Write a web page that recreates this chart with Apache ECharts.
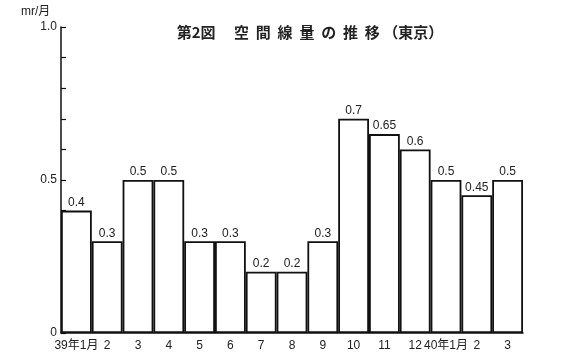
<!DOCTYPE html>
<html><head><meta charset="utf-8">
<script src="https://cdn.jsdelivr.net/npm/echarts@6/dist/echarts.min.js"></script>
<style>html,body{margin:0;padding:0;background:#fff}#c{width:568px;height:362px}</style>
</head><body><div id="c"></div>
<script>
const categories = ["39年1月","2","3","4","5","6","7","8","9","10","11","12","40年1月","2","3"];
const values = [0.4,0.3,0.5,0.5,0.3,0.3,0.2,0.2,0.3,0.7,0.65,0.6,0.5,0.45,0.5];
const valueLabels = ["0.4","0.3","0.5","0.5","0.3","0.3","0.2","0.2","0.3","0.7","0.65","0.6","0.5","0.45","0.5"];
const yLabels = {"0":"0","0.5":"0.5","1":"1.0"};
const FONT = "'Liberation Sans', 'Noto Sans CJK JP', sans-serif";
const chart = echarts.init(document.getElementById('c'));
chart.setOption({
  animation:false,
  backgroundColor:'#fff',
  title:{text:'第2図　 空  間  線  量  の  推  移 （東京）',left:305,top:20,textAlign:'center',
    textStyle:{fontFamily:"'Noto Sans CJK JP', sans-serif",fontSize:15,fontWeight:'bold',color:'#222'}},
  graphic:[{type:'text',left:21,top:6,style:{text:'mr/月',font:"12px 'Liberation Sans','Noto Sans CJK JP'",fill:'#222'}}],
  grid:{left:61,right:45,top:27,bottom:29,containLabel:false},
  xAxis:{type:'category',data:categories,
    axisLine:{lineStyle:{color:'#111',width:1.5}},axisTick:{show:false},
    axisLabel:{interval:0,color:'#222',fontSize:12,margin:7,fontFamily:FONT}},
  yAxis:{type:'value',min:0,max:1,interval:0.1,splitLine:{show:false},
    axisLine:{show:true,lineStyle:{color:'#111',width:1.5}},
    axisTick:{show:true,inside:true,length:5,lineStyle:{color:'#111',width:1.2}},
    axisLabel:{color:'#222',fontSize:12,margin:4,fontFamily:FONT,
      formatter:function(v){const k=String(Math.round(v*10)/10);return yLabels[k]!==undefined?yLabels[k]:'';}}},
  series:[{type:'bar',data:values,barCategoryGap:'0%',
    itemStyle:{color:'#fff',borderColor:'#111',borderWidth:1.8},
    label:{show:true,position:'top',distance:2,color:'#222',fontSize:12,fontFamily:FONT,
      formatter:function(p){return valueLabels[p.dataIndex];}}}]
});
</script></body></html>
